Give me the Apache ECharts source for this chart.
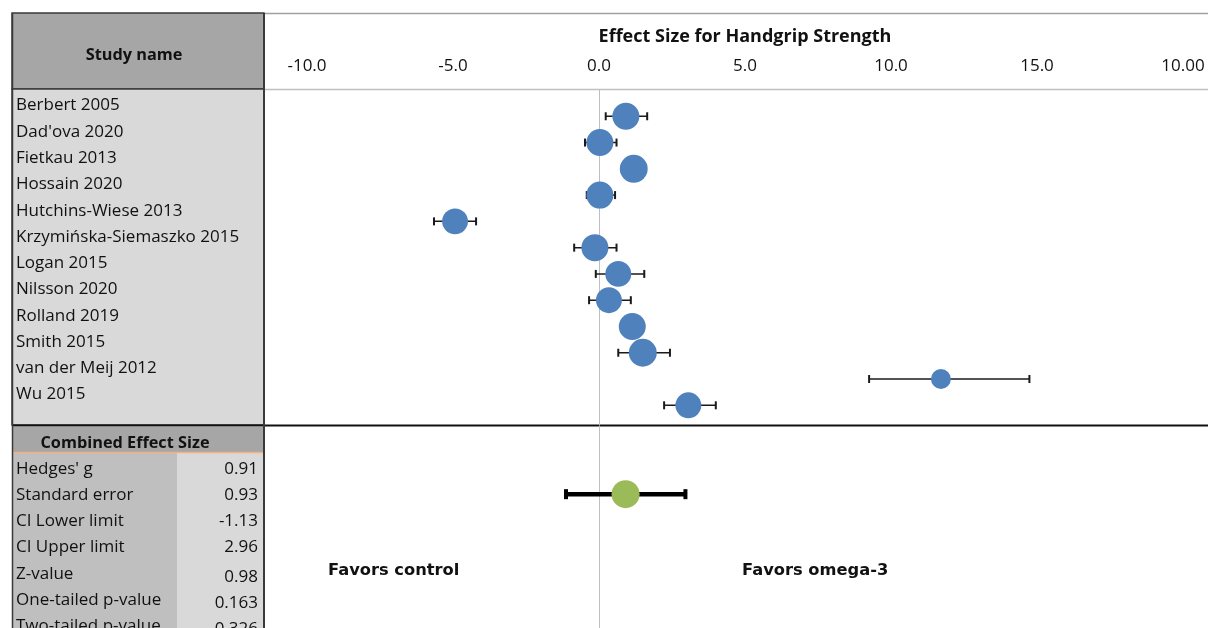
<!DOCTYPE html>
<html>
<head>
<meta charset="utf-8">
<script src="https://cdn.jsdelivr.net/npm/echarts@6/dist/echarts.min.js"></script>
<style>
  html, body { margin: 0; padding: 0; background: #fff; }
  #chart { width: 1208px; height: 628px; }
</style>
</head>
<body>
<div id="chart"></div>
<script>
// Studies and their effect sizes (Hedges' g) with 95% confidence limits
const studyNames = [
  'Berbert 2005', "Dad'ova 2020", 'Fietkau 2013', 'Hossain 2020',
  'Hutchins-Wiese 2013', 'Krzymińska-Siemaszko 2015', 'Logan 2015',
  'Nilsson 2020', 'Rolland 2019', 'Smith 2015', 'van der Meij 2012', 'Wu 2015'
];
const effects  = [0.92, 0.03, 1.19, 0.03, -4.93, -0.14, 0.66, 0.34, 1.14, 1.50, 11.71, 3.06];
const ciLower  = [0.23, -0.48, 0.90, -0.42, -5.65, -0.85, -0.11, -0.34, 0.85, 0.66, 9.25, 2.23];
const ciUpper  = [1.65, 0.60, 1.50, 0.55, -4.21, 0.60, 1.55, 1.09, 1.45, 2.43, 14.74, 4.00];
// Relative study weights (%), shown as marker area
const weights  = [8.8, 8.8, 9.4, 8.8, 8.1, 8.8, 8.1, 8.1, 8.8, 9.4, 4.8, 8.1];

// Axis tick labels, from -10 to 20 in steps of 5
const tickLabels = ['-10.0', '-5.0', '0.0', '5.0', '10.0', '15.0', '10.00'];

// Combined effect size summary table
const statLabels = ["Hedges' g", 'Standard error', 'CI Lower limit', 'CI Upper limit',
                    'Z-value', 'One-tailed p-value', 'Two-tailed p-value'];
const statValues = ['0.91', '0.93', '-1.13', '2.96', '0.98', '0.163', '0.326'];

const combinedG = parseFloat(statValues[0]);
const combinedLo = parseFloat(statValues[2]);
const combinedHi = parseFloat(statValues[3]);

const FONT = '"Open Sans", Lato, "Noto Sans", sans-serif';
const BOLD_SANS = '"DejaVu Sans", Verdana, sans-serif';
const FS = 17;
const FS_HEAD = 16.3;

const chart = echarts.init(document.getElementById('chart'), null, { renderer: 'canvas' });

// Horizontal error bar with end caps
function errorBar(capH, lineW, capW, color) {
  return function (params, api) {
    const y = api.value(2);
    const a = api.coord([api.value(0), y]);
    const b = api.coord([api.value(1), y]);
    const ls = { stroke: color, lineWidth: lineW };
    const cs = { stroke: color, lineWidth: capW };
    return {
      type: 'group',
      children: [
        { type: 'line', shape: { x1: a[0], y1: a[1], x2: b[0], y2: b[1] }, style: ls },
        { type: 'line', shape: { x1: a[0], y1: a[1] - capH / 2, x2: a[0], y2: a[1] + capH / 2 }, style: cs },
        { type: 'line', shape: { x1: b[0], y1: b[1] - capH / 2, x2: b[0], y2: b[1] + capH / 2 }, style: cs }
      ]
    };
  };
}

const X_LEFT = 307, X_WIDTH = 876;
const COMBINED_ROW = 2.7;

// Table backgrounds, borders and summary texts
const graphics = [
  { type: 'rect', z: -5, shape: { x: 12, y: 13, width: 252, height: 76 },
    style: { fill: '#a6a6a6', stroke: '#3a3a3a', lineWidth: 1.5 } },
  { type: 'rect', z: -5, shape: { x: 12, y: 89, width: 252, height: 336 },
    style: { fill: '#d9d9d9', stroke: '#3a3a3a', lineWidth: 1.5 } },
  { type: 'line', z: -4, shape: { x1: 264, y1: 13.5, x2: 1208, y2: 13.5 },
    style: { stroke: '#a0a0a0', lineWidth: 1.5 } },
  { type: 'line', z: -4, shape: { x1: 264, y1: 89.5, x2: 1208, y2: 89.5 },
    style: { stroke: '#c0c0c0', lineWidth: 1.5 } },
  { type: 'rect', z: -5, shape: { x: 12, y: 427, width: 252, height: 25 },
    style: { fill: '#a6a6a6' } },
  { type: 'rect', z: -5, shape: { x: 12, y: 453, width: 165, height: 175 },
    style: { fill: '#bfbfbf' } },
  { type: 'rect', z: -5, shape: { x: 177, y: 453, width: 87, height: 175 },
    style: { fill: '#d9d9d9' } },
  { type: 'line', z: -4, shape: { x1: 12, y1: 452.5, x2: 264, y2: 452.5 },
    style: { stroke: '#f4b183', lineWidth: 1.5 } },
  { type: 'line', z: -3, shape: { x1: 12, y1: 425.5, x2: 1208, y2: 425.5 },
    style: { stroke: '#111', lineWidth: 2 } },
  { type: 'line', z: -3, shape: { x1: 12.5, y1: 13, x2: 12.5, y2: 628 },
    style: { stroke: '#3a3a3a', lineWidth: 1.5 } },
  { type: 'line', z: -3, shape: { x1: 264, y1: 13, x2: 264, y2: 628 },
    style: { stroke: '#3a3a3a', lineWidth: 2 } },
  { type: 'text', z: 10, x: 134, y: 55,
    style: { text: 'Study name', font: 'bold ' + FS_HEAD + 'px ' + FONT, fill: '#111',
             textAlign: 'center', textVerticalAlign: 'middle' } },
  { type: 'text', z: 10, x: 125, y: 443,
    style: { text: 'Combined Effect Size', font: 'bold ' + FS_HEAD + 'px ' + FONT, fill: '#111',
             textAlign: 'center', textVerticalAlign: 'middle' } },
  { type: 'text', z: 10, x: 328, y: 571,
    style: { text: 'Favors control', font: 'bold 16.3px ' + BOLD_SANS, fill: '#111',
             textAlign: 'left', textVerticalAlign: 'middle' } },
  { type: 'text', z: 10, x: 742, y: 571,
    style: { text: 'Favors omega-3', font: 'bold 16.3px ' + BOLD_SANS, fill: '#111',
             textAlign: 'left', textVerticalAlign: 'middle' } }
];
statLabels.forEach(function (lab, i) {
  const y = 469 + 26.2 * i;
  graphics.push({ type: 'text', z: 10, x: 16, y: y,
    style: { text: lab, font: FS + 'px ' + FONT, fill: '#111', textAlign: 'left', textVerticalAlign: 'middle' } });
  graphics.push({ type: 'text', z: 10, x: 258, y: y + (i >= 4 ? 3 : 0),
    style: { text: statValues[i], font: FS + 'px ' + FONT, fill: '#111', textAlign: 'right', textVerticalAlign: 'middle' } });
});

const hiddenAxisParts = {
  axisLine: { show: false }, axisTick: { show: false },
  splitLine: { show: false }, axisLabel: { show: false }
};

const option = {
  backgroundColor: '#ffffff',
  animation: false,
  textStyle: { fontFamily: FONT },
  graphic: { elements: graphics },
  grid: [
    { left: X_LEFT, width: X_WIDTH, top: 90, height: 335 },
    { left: X_LEFT, width: X_WIDTH, top: 426, height: 202 },
    { left: 12, width: 252, top: 92.5, height: 315.2 }
  ],
  xAxis: [
    {
      gridIndex: 0, type: 'value', position: 'top', min: -10, max: 20, interval: 5,
      name: 'Effect Size for Handgrip Strength', nameLocation: 'middle', nameGap: 53,
      nameTextStyle: { fontFamily: FONT, fontWeight: 'bold', fontSize: 18, color: '#111', verticalAlign: 'middle' },
      axisLine: { show: false }, axisTick: { show: false }, splitLine: { show: false },
      axisLabel: {
        margin: 15, fontFamily: FONT, fontSize: FS, color: '#111',
        formatter: function (v) { return tickLabels[Math.round((v + 10) / 5)]; }
      }
    },
    Object.assign({ gridIndex: 1, type: 'value', min: -10, max: 20, interval: 5 }, hiddenAxisParts),
    Object.assign({ gridIndex: 2, type: 'value', min: 0, max: 1 }, hiddenAxisParts)
  ],
  yAxis: [
    {
      gridIndex: 0, type: 'value', min: -1, max: 11.75, inverse: true,
      axisLine: { show: true, onZero: true, lineStyle: { color: '#bfbfbf', width: 1 } },
      axisTick: { show: false }, splitLine: { show: false }, axisLabel: { show: false }
    },
    {
      gridIndex: 1, type: 'value', min: 0, max: 8, inverse: true,
      axisLine: { show: true, onZero: true, lineStyle: { color: '#bfbfbf', width: 1 } },
      axisTick: { show: false }, splitLine: { show: false }, axisLabel: { show: false }
    },
    {
      gridIndex: 2, type: 'category', data: studyNames, inverse: true,
      axisLine: { show: false }, axisTick: { show: false }, splitLine: { show: false },
      axisLabel: { inside: true, margin: 4, fontFamily: FONT, fontSize: FS, color: '#111' }
    }
  ],
  series: [
    {
      type: 'custom', xAxisIndex: 0, yAxisIndex: 0, z: 2,
      renderItem: errorBar(8, 1.5, 2, '#1a1a1a'),
      encode: { x: [0, 1], y: 2 },
      data: studyNames.map(function (n, i) { return [ciLower[i], ciUpper[i], i]; })
    },
    {
      type: 'scatter', xAxisIndex: 0, yAxisIndex: 0, z: 3,
      data: studyNames.map(function (n, i) { return [effects[i], i, weights[i]]; }),
      symbolSize: function (v) { return Math.sqrt(v[2]) * 9.1; },
      itemStyle: { color: '#4f81bd', opacity: 1 }
    },
    {
      type: 'custom', xAxisIndex: 1, yAxisIndex: 1, z: 2,
      renderItem: errorBar(10, 4.5, 4, '#000'),
      encode: { x: [0, 1], y: 2 },
      data: [[combinedLo, combinedHi, COMBINED_ROW]]
    },
    {
      type: 'scatter', xAxisIndex: 1, yAxisIndex: 1, z: 3,
      data: [[combinedG, COMBINED_ROW]],
      symbolSize: 28,
      itemStyle: { color: '#9bbb59', opacity: 1 }
    }
  ]
};

chart.setOption(option);
</script>
</body>
</html>
